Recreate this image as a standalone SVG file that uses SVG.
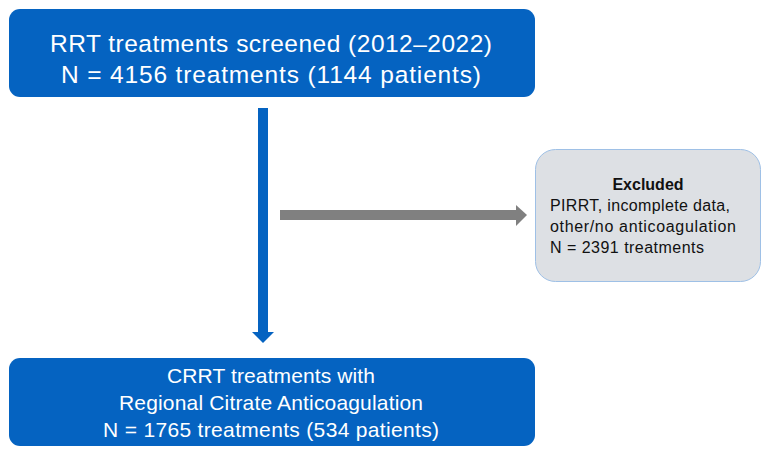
<svg xmlns="http://www.w3.org/2000/svg" width="768" height="456" viewBox="0 0 768 456">
<style>
.blue{fill:#0563c1}
.wt{fill:#ffffff;font-family:"Liberation Sans",Arial,sans-serif;text-anchor:middle}
.dk{fill:#111111;font-family:"Liberation Sans",Arial,sans-serif;font-size:16px}
</style>
<rect width="768" height="456" fill="#ffffff"/>
<g id="connectors">
<rect class="blue" x="258" y="108" width="10" height="225"/>
<polygon class="blue" points="252,332 274,332 263,343"/>
<rect x="280" y="210" width="237" height="10" fill="#808080"/>
<polygon points="516,205 527,215 516,226" fill="#808080"/>
</g>
<g id="screened">
<rect class="blue" x="9" y="9" width="526" height="88" rx="11"/>
<text class="wt" x="271" y="52" font-size="24.5" textLength="442">RRT treatments screened (2012–2022)</text>
<text class="wt" x="271" y="83" font-size="24.5" textLength="420">N = 4156 treatments (1144 patients)</text>
</g>
<g id="excluded">
<rect x="535.5" y="149.5" width="225" height="132" rx="20" fill="#dde0e4" stroke="#9ec0e6" stroke-width="1"/>
<text class="dk" x="648" y="190" text-anchor="middle" font-weight="bold">Excluded</text>
<text class="dk" x="550" y="211" textLength="180">PIRRT, incomplete data,</text>
<text class="dk" x="550" y="232" textLength="186">other/no anticoagulation</text>
<text class="dk" x="550" y="253" textLength="154">N = 2391 treatments</text>
</g>
<g id="included">
<rect class="blue" x="9" y="358" width="526" height="88" rx="11"/>
<text class="wt" x="271" y="383" font-size="21" textLength="208">CRRT treatments with</text>
<text class="wt" x="271" y="410" font-size="21" textLength="304">Regional Citrate Anticoagulation</text>
<text class="wt" x="271" y="437" font-size="21" textLength="336">N = 1765 treatments (534 patients)</text>
</g>
</svg>
